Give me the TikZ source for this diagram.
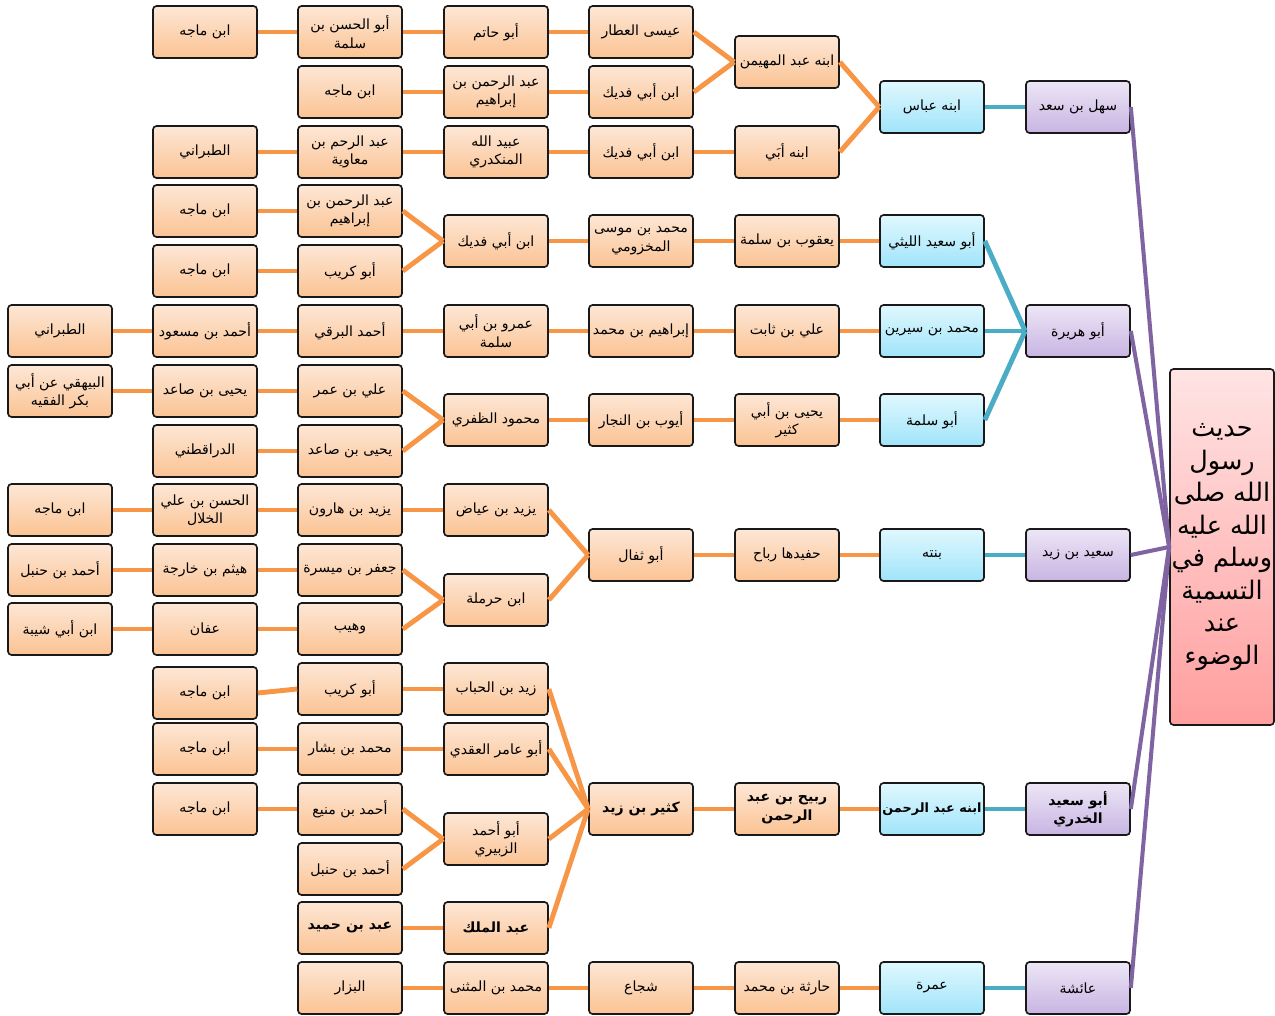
\documentclass[tikz,border=0pt]{standalone}
\usepackage{fontspec}
\newfontfamily\arabicfont[Script=Arabic]{DejaVu Sans}
\TeXXeTstate=1
\newcommand{\arline}[1]{\beginR #1\endR}

\definecolor{orangetop}{HTML}{FDE7D6}
\definecolor{orangebot}{HTML}{FBC393}
\definecolor{bluetop}{HTML}{E0F8FE}
\definecolor{bluebot}{HTML}{A0E4FA}
\definecolor{purpletop}{HTML}{EDE6F6}
\definecolor{purplebot}{HTML}{C8B4E2}
\definecolor{roottop}{HTML}{FFE4E4}
\definecolor{rootbot}{HTML}{FF9E9E}
\definecolor{linkorange}{HTML}{F79646}
\definecolor{linkblue}{HTML}{4BACC6}
\definecolor{linkpurple}{HTML}{8064A2}

\tikzset{
  box/.style={draw=black!90, line width=0.95pt, rounded corners=2pt,
    minimum width=2.08cm, minimum height=1.04cm, inner sep=1pt, align=center,
    font=\arabicfont\fontsize{8}{10.5}\selectfont},
  obox/.style={box, top color=orangetop, bottom color=orangebot},
  bbox/.style={box, top color=bluetop, bottom color=bluebot},
  pbox/.style={box, top color=purpletop, bottom color=purplebot},
  heavy/.style={font=\arabicfont\fontsize{8}{10.5}\selectfont\bfseries},
  oline/.style={draw=linkorange, line width=2.8pt},
  bline/.style={draw=linkblue, line width=2.8pt},
  pline/.style={draw=linkpurple, line width=2.3pt}
}

\begin{document}
\begin{tikzpicture}[x=0.02cm, y=-0.02cm]
  \useasboundingbox (0,0) rectangle (1275,1016);

  \node[box, top color=roottop, bottom color=rootbot, minimum width=2.08cm,
    minimum height=7.12cm, font=\arabicfont\fontsize{14.5}{18.5}\selectfont]
    (root) at (1222,547) {\arline{حديث}\\\arline{رسول}\\\arline{الله صلى}\\\arline{الله عليه}\\\arline{وسلم في}\\\arline{التسمية}\\\arline{عند}\\\arline{الوضوء}};

  \node[obox] (a1) at (205,32) {\arline{ابن ماجه}};
  \node[obox] (a2) at (350,32) {\arline{أبو الحسن بن}\\\arline{سلمة}};
  \node[obox] (a3) at (496,32) {\arline{أبو حاتم}};
  \node[obox] (a4) at (641,32) {\arline{عيسى العطار}};
  \node[obox] (a5) at (350,92) {\arline{ابن ماجه}};
  \node[obox] (a6) at (496,92) {\arline{عبد الرحمن بن}\\\arline{إبراهيم}};
  \node[obox] (a7) at (641,92) {\arline{ابن أبي فديك}};
  \node[obox] (a8) at (205,152) {\arline{الطبراني}};
  \node[obox] (a9) at (350,152) {\arline{عبد الرحم بن}\\\arline{معاوية}};
  \node[obox] (a10) at (496,152) {\arline{عبيد الله}\\\arline{المنكدري}};
  \node[obox] (a11) at (641,152) {\arline{ابن أبي فديك}};
  \node[obox] (a12) at (787,62) {\arline{ابنه عبد المهيمن}};
  \node[obox] (a13) at (787,152) {\arline{ابنه أبَي}};
  \node[bbox] (a14) at (932,107) {\arline{ابنه عباس}};
  \node[pbox] (a15) at (1078,107) {\arline{سهل بن سعد}};

  \node[obox] (b1) at (205,211) {\arline{ابن ماجه}};
  \node[obox] (b2) at (350,211) {\arline{عبد الرحمن بن}\\\arline{إبراهيم}};
  \node[obox] (b3) at (205,271) {\arline{ابن ماجه}};
  \node[obox] (b4) at (350,271) {\arline{أبو كريب}};
  \node[obox] (b5) at (496,241) {\arline{ابن أبي فديك}};
  \node[obox] (b6) at (641,241) {\arline{محمد بن موسى}\\\arline{المخزومي}};
  \node[obox] (b7) at (787,241) {\arline{يعقوب بن سلمة}};
  \node[bbox] (b8) at (932,241) {\arline{أبو سعيد الليثي}};
  \node[obox] (b9) at (60,331) {\arline{الطبراني}};
  \node[obox] (b10) at (205,331) {\arline{أحمد بن مسعود}};
  \node[obox] (b11) at (350,331) {\arline{أحمد البرقي}};
  \node[obox] (b12) at (496,331) {\arline{عمرو بن أبي}\\\arline{سلمة}};
  \node[obox] (b13) at (641,331) {\arline{إبراهيم بن محمد}};
  \node[obox] (b14) at (787,331) {\arline{علي بن ثابت}};
  \node[bbox] (b15) at (932,331) {\arline{محمد بن سيرين}};
  \node[obox] (b16) at (60,391) {\arline{البيهقي عن أبي}\\\arline{بكر الفقيه}};
  \node[obox] (b17) at (205,391) {\arline{يحيى بن صاعد}};
  \node[obox] (b18) at (350,391) {\arline{علي بن عمر}};
  \node[obox] (b19) at (205,451) {\arline{الدراقطني}};
  \node[obox] (b20) at (350,451) {\arline{يحيى بن صاعد}};
  \node[obox] (b21) at (496,420) {\arline{محمود الظفري}};
  \node[obox] (b22) at (641,420) {\arline{أيوب بن النجار}};
  \node[obox] (b23) at (787,420) {\arline{يحيى بن أبي}\\\arline{كثير}};
  \node[bbox] (b24) at (932,420) {\arline{أبو سلمة}};
  \node[pbox] (b25) at (1078,331) {\arline{أبو هريرة}};

  \node[obox] (c1) at (60,510) {\arline{ابن ماجه}};
  \node[obox] (c2) at (205,510) {\arline{الحسن بن علي}\\\arline{الخلال}};
  \node[obox] (c3) at (350,510) {\arline{يزيد بن هارون}};
  \node[obox] (c4) at (496,510) {\arline{يزيد بن عياض}};
  \node[obox] (c5) at (60,570) {\arline{أحمد بن حنبل}};
  \node[obox] (c6) at (205,570) {\arline{هيثم بن خارجة}};
  \node[obox] (c7) at (350,570) {\arline{جعفر بن ميسرة}};
  \node[obox] (c8) at (60,629) {\arline{ابن أبي شيبة}};
  \node[obox] (c9) at (205,629) {\arline{عفان}};
  \node[obox] (c10) at (350,629) {\arline{وهيب}};
  \node[obox] (c11) at (496,600) {\arline{ابن حرملة}};
  \node[obox] (c12) at (641,555) {\arline{أبو ثفال}};
  \node[obox] (c13) at (787,555) {\arline{حفيدها رباح}};
  \node[bbox] (c14) at (932,555) {\arline{بنته}};
  \node[pbox] (c15) at (1078,555) {\arline{سعيد بن زيد}};

  \node[obox] (d1) at (205,693) {\arline{ابن ماجه}};
  \node[obox] (d2) at (350,689) {\arline{أبو كريب}};
  \node[obox] (d3) at (496,689) {\arline{زيد بن الحباب}};
  \node[obox] (d4) at (205,749) {\arline{ابن ماجه}};
  \node[obox] (d5) at (350,749) {\arline{محمد بن بشار}};
  \node[obox] (d6) at (496,749) {\arline{أبو عامر العقدي}};
  \node[obox] (d7) at (205,809) {\arline{ابن ماجه}};
  \node[obox] (d8) at (350,809) {\arline{أحمد بن منيع}};
  \node[obox] (d9) at (350,869) {\arline{أحمد بن حنبل}};
  \node[obox] (d10) at (496,839) {\arline{أبو أحمد}\\\arline{الزبيري}};
  \node[obox, heavy] (d11) at (350,928) {\arline{عبد بن حميد}};
  \node[obox, heavy] (d12) at (496,928) {\arline{عبد الملك}};
  \node[obox, heavy] (d13) at (641,809) {\arline{كثير بن زيد}};
  \node[obox, heavy] (d14) at (787,809) {\arline{ربيح بن عبد}\\\arline{الرحمن}};
  \node[bbox, heavy, inner xsep=0pt, font=\arabicfont\fontsize{7.3}{10}\selectfont\bfseries]
    (d15) at (932,809) {\arline{ابنه عبد الرحمن}};
  \node[pbox, heavy] (d16) at (1078,809) {\arline{أبو سعيد}\\\arline{الخدري}};

  \node[obox] (e1) at (350,988) {\arline{البزار}};
  \node[obox] (e2) at (496,988) {\arline{محمد بن المثنى}};
  \node[obox] (e3) at (641,988) {\arline{شجاع}};
  \node[obox] (e4) at (787,988) {\arline{حارثة بن محمد}};
  \node[bbox] (e5) at (932,988) {\arline{عمرة}};
  \node[pbox] (e6) at (1078,988) {\arline{عائشة}};

  \begin{scope}[oline]
    \draw (a1.east) to (a2.west);
    \draw (a2.east) to (a3.west);
    \draw (a3.east) to (a4.west);
    \draw (a4.east) to (a12.west);
    \draw (a5.east) to (a6.west);
    \draw (a6.east) to (a7.west);
    \draw (a7.east) to (a12.west);
    \draw (a8.east) to (a9.west);
    \draw (a9.east) to (a10.west);
    \draw (a10.east) to (a11.west);
    \draw (a11.east) to (a13.west);
    \draw (a12.east) to (a14.west);
    \draw (a13.east) to (a14.west);
    \draw (b1.east) to (b2.west);
    \draw (b3.east) to (b4.west);
    \draw (b2.east) to (b5.west);
    \draw (b4.east) to (b5.west);
    \draw (b5.east) to (b6.west);
    \draw (b6.east) to (b7.west);
    \draw (b7.east) to (b8.west);
    \draw (b9.east) to (b10.west);
    \draw (b10.east) to (b11.west);
    \draw (b11.east) to (b12.west);
    \draw (b12.east) to (b13.west);
    \draw (b13.east) to (b14.west);
    \draw (b14.east) to (b15.west);
    \draw (b16.east) to (b17.west);
    \draw (b17.east) to (b18.west);
    \draw (b18.east) to (b21.west);
    \draw (b19.east) to (b20.west);
    \draw (b20.east) to (b21.west);
    \draw (b21.east) to (b22.west);
    \draw (b22.east) to (b23.west);
    \draw (b23.east) to (b24.west);
    \draw (c1.east) to (c2.west);
    \draw (c2.east) to (c3.west);
    \draw (c3.east) to (c4.west);
    \draw (c4.east) to (c12.west);
    \draw (c5.east) to (c6.west);
    \draw (c6.east) to (c7.west);
    \draw (c7.east) to (c11.west);
    \draw (c8.east) to (c9.west);
    \draw (c9.east) to (c10.west);
    \draw (c10.east) to (c11.west);
    \draw (c11.east) to (c12.west);
    \draw (c12.east) to (c13.west);
    \draw (c13.east) to (c14.west);
    \draw (d1.east) to (d2.west);
    \draw (d2.east) to (d3.west);
    \draw (d3.east) to (d13.west);
    \draw (d4.east) to (d5.west);
    \draw (d5.east) to (d6.west);
    \draw (d6.east) to (d13.west);
    \draw (d7.east) to (d8.west);
    \draw (d8.east) to (d10.west);
    \draw (d9.east) to (d10.west);
    \draw (d10.east) to (d13.west);
    \draw (d11.east) to (d12.west);
    \draw (d12.east) to (d13.west);
    \draw (d13.east) to (d14.west);
    \draw (d14.east) to (d15.west);
    \draw (e1.east) to (e2.west);
    \draw (e2.east) to (e3.west);
    \draw (e3.east) to (e4.west);
    \draw (e4.east) to (e5.west);
  \end{scope}
  \begin{scope}[bline]
    \draw (a14.east) to (a15.west);
    \draw (b8.east) to (b25.west);
    \draw (b15.east) to (b25.west);
    \draw (b24.east) to (b25.west);
    \draw (c14.east) to (c15.west);
    \draw (d15.east) to (d16.west);
    \draw (e5.east) to (e6.west);
  \end{scope}
  \begin{scope}[pline]
    \draw (a15.east) to (root.west);
    \draw (b25.east) to (root.west);
    \draw (c15.east) to (root.west);
    \draw (d16.east) to (root.west);
    \draw (e6.east) to (root.west);
  \end{scope}
\end{tikzpicture}
\end{document}
